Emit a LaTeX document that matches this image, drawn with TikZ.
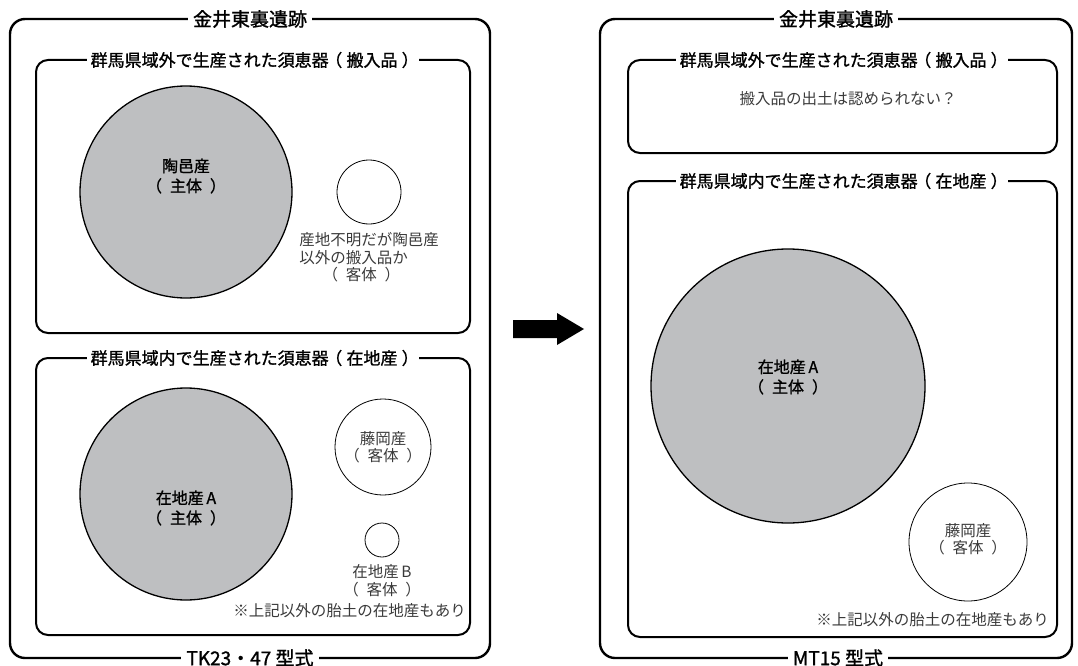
\documentclass[tikz,border=0pt]{standalone}
\usepackage{fontspec}
\setmainfont{Noto Sans CJK JP}
\newfontfamily\headfont{Noto Sans CJK JP}[FakeBold=1.2]
\usetikzlibrary{positioning}
\definecolor{ware}{HTML}{BEBFC1}
\definecolor{note}{HTML}{3A3A3A}
\newcommand\paren[1]{\kern-.2em（\kern.25em#1\kern.25em）\kern-.2em}
\tikzset{
  site/.style={draw,line width=2.4pt,rounded corners=15pt},
  zone/.style={draw,line width=2pt,rounded corners=12pt},
  sitehead/.style={fill=white,inner xsep=5pt,inner ysep=1pt,font=\headfont\fontsize{19}{19}\selectfont},
  zonehead/.style={fill=white,inner xsep=4pt,inner ysep=1pt,font=\headfont\fontsize{17}{17}\selectfont},
  mainware/.style={circle,draw,line width=1.3pt,fill=ware,inner sep=0pt},
  subware/.style={circle,draw,line width=0.8pt,inner sep=0pt},
  boldlabel/.style={align=center,inner sep=0pt,font=\headfont\fontsize{16}{20}\selectfont},
  thinlabel/.style={align=center,inner sep=0pt,text=note,font=\fontsize{15.5}{17.5}\selectfont},
}
\begin{document}
\begin{tikzpicture}[x=1pt,y=-1pt]
  \useasboundingbox (0,0) rectangle (1078,666);

  \draw[site] (10,19) rectangle (490,658);
  \draw[zone] (36,60) rectangle (470,333);
  \draw[zone] (36,358) rectangle (470,635);
  \node[sitehead] (siteL) at (250,19) {金井東裏遺跡};
  \node[zonehead] (outL) at (253,60) {群馬県域外で生産された須恵器\paren{搬入品}};
  \node[zonehead] (inL) at (253,358) {群馬県域内で生産された須恵器\paren{在地産}};
  \node[sitehead] (typeL) at (250,658) {TK23・47 型式};

  \node[mainware,minimum size=212pt] (sueL) at (186,192) {};
  \node[boldlabel] at (186,176) {陶邑産\\（\enspace 主体\enspace）};
  \node[subware,minimum size=64pt] (unkL) at (369,192) {};
  \node[thinlabel,align=left,below=8pt of unkL] {産地不明だが陶邑産\\以外の搬入品か\\\hspace{1.5em}（\enspace 客体\enspace）};

  \node[mainware,minimum size=212pt] (locL) at (186,494) {};
  \node[boldlabel] at (186,508) {在地産\,A\\（\enspace 主体\enspace）};
  \node[subware,minimum size=96pt] (fujL) at (383,447) {};
  \node[thinlabel] at (fujL) {藤岡産\\（\enspace 客体\enspace）};
  \node[subware,minimum size=34pt] (locB) at (382,540) {};
  \node[thinlabel,below=7pt of locB] {在地産\,B\\（\enspace 客体\enspace）};
  \node[thinlabel,anchor=east] at (466,611) {※上記以外の胎土の在地産もあり};

  \fill (513,320) -- (557,320) -- (557,313) -- (584,329) -- (557,345) -- (557,338) -- (513,338) -- cycle;

  \draw[site] (600,19) rectangle (1072,658);
  \draw[zone] (628,60) rectangle (1057,153);
  \draw[zone] (628,181) rectangle (1057,637);
  \node[sitehead] (siteR) at (836,19) {金井東裏遺跡};
  \node[zonehead] (outR) at (842,60) {群馬県域外で生産された須恵器\paren{搬入品}};
  \node[zonehead] (inR) at (842,181) {群馬県域内で生産された須恵器\paren{在地産}};
  \node[sitehead] (typeR) at (838,658) {MT15 型式};
  \node[thinlabel] at (848,99) {搬入品の出土は認められない？};

  \node[mainware,minimum size=274pt] (locR) at (788,386) {};
  \node[boldlabel] at (788,377) {在地産\,A\\（\enspace 主体\enspace）};
  \node[subware,minimum size=118pt] (fujR) at (968,542) {};
  \node[thinlabel] at (968,539) {藤岡産\\（\enspace 客体\enspace）};
  \node[thinlabel,anchor=east] at (1049,620) {※上記以外の胎土の在地産もあり};
\end{tikzpicture}
\end{document}
